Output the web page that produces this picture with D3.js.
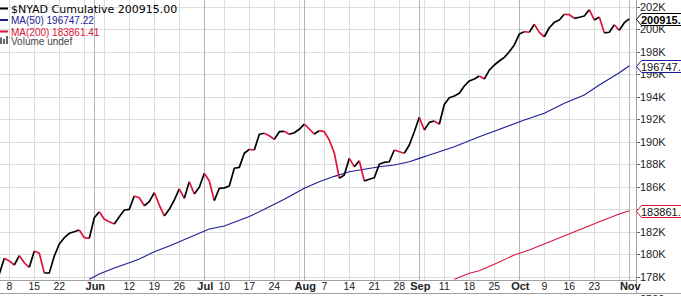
<!DOCTYPE html>
<html>
<head>
  <title>$NYAD Cumulative</title>
  <script src="https://d3js.org/d3.v7.min.js"></script>
  <style>
    body { margin: 0; background: #fff; }
    svg text { font-family: "Liberation Sans", Arial, sans-serif; }
  </style>
</head>
<body>
<svg id="chart" width="681" height="296"></svg>
<script>
// trading calendar shown on the chart
const firstDay = "2017-05-04";
const lastDay = "2017-11-01";
const holidays = ["2017-05-29", "2017-07-04", "2017-09-04"];

// daily close of $NYAD cumulative, one per trading day from firstDay
const closes = [
  178240, 179640, 179400, 179040, 179870, 179240, 178830, 180280, 180080, 178330,
  178340, 179840, 180910, 181470, 181860, 182000, 182150, 181470, 181410, 183240,
  183780, 183100, 182890, 182680, 183330, 183930, 183990, 185170, 185020, 184310,
  184670, 185470, 184370, 183400, 183990, 184820, 185800, 184970, 186440, 185350,
  185950, 187190, 186510, 184760, 185860, 185900, 186060, 187640, 187720, 188970,
  189320, 189260, 190660, 190750, 190530, 190210, 190890, 190920, 190660, 190800,
  191100, 191570, 191130, 190680, 190980, 190890, 190150, 189000, 186750, 187040,
  188520, 187780, 188310, 186510, 186660, 186800, 187990, 188170, 188220, 189260,
  189110, 188970, 189710, 190890, 192170, 191040, 191720, 191840, 191550, 193300,
  193910, 194060, 194300, 194950, 195400, 195570, 195840, 195570, 196370, 196820,
  197170, 197500, 198000, 198600, 199570, 199780, 199730, 200440, 199720, 199330,
  200130, 200610, 200820, 201330, 201290, 200970, 201060, 201170, 201730, 200820,
  201080, 199680, 199730, 200400, 199900, 200580, 200915
];

const ma50Dates = ["2017-05-31", "2017-06-02", "2017-06-07", "2017-06-12", "2017-06-14",
  "2017-06-19", "2017-06-22", "2017-06-26", "2017-07-05", "2017-07-10", "2017-07-17",
  "2017-07-20", "2017-07-26", "2017-08-01", "2017-08-04", "2017-08-09", "2017-08-14",
  "2017-08-17", "2017-08-22", "2017-08-25", "2017-08-30", "2017-09-01", "2017-09-06",
  "2017-09-08", "2017-09-13", "2017-09-20", "2017-10-03", "2017-10-09", "2017-10-13",
  "2017-10-19", "2017-10-24", "2017-10-30", "2017-11-01"];
const ma50Values = [177770, 178240, 178770, 179240, 179570, 180220, 180730, 181110, 182240,
  182510, 183350, 183990, 184880, 185860, 186440, 186920, 187330, 187550, 187780, 187930,
  188220, 188520, 188820, 189110, 189560, 190440, 191930, 192520, 193410, 194150, 195040,
  196130, 196747.22];

const ma200Dates = ["2017-09-13", "2017-09-18", "2017-09-20", "2017-09-25", "2017-09-29",
  "2017-10-04", "2017-10-24", "2017-10-30", "2017-11-01"];
const ma200Values = [177770, 178300, 178530, 179100, 179930, 180370, 182890, 183570, 183861.41];

const yTicks = [178000, 180000, 182000, 184000, 186000, 188000, 190000, 192000, 194000,
  196000, 198000, 200000, 202000];
const monthTicks = ["2017-06-01", "2017-07-03", "2017-08-01", "2017-09-01", "2017-10-02", "2017-11-01"];
const weekTicks = ["2017-05-08", "2017-05-15", "2017-05-22", "2017-06-12", "2017-06-19",
  "2017-06-26", "2017-07-10", "2017-07-17", "2017-07-24", "2017-08-07", "2017-08-14",
  "2017-08-21", "2017-08-28", "2017-09-11", "2017-09-18", "2017-09-25", "2017-10-09",
  "2017-10-16", "2017-10-23"];

const parse = d3.timeParse("%Y-%m-%d");
const fmt = d3.timeFormat("%Y-%m-%d");

// build the list of trading days
const days = d3.timeDay.range(parse(firstDay), d3.timeDay.offset(parse(lastDay), 1))
  .filter(d => d.getDay() !== 0 && d.getDay() !== 6 && !holidays.includes(fmt(d)));
const dayIndex = {};
days.forEach((d, i) => dayIndex[fmt(d)] = i);

const svg = d3.select("#chart");
const plotW = 636, plotH = 280;

const x = d3.scaleLinear().domain([0.14, 127.34]).range([0, plotW]);
const y = d3.scaleLinear().domain([177707, 202596]).range([plotH, 0]);

const red = "#dc143c", navy = "#1c1c96";

// grid
const grid = svg.append("g");
grid.selectAll(".hgrid").data(yTicks).enter().append("line")
  .attr("x1", 0).attr("x2", plotW)
  .attr("y1", d => Math.round(y(d)) + 0.5).attr("y2", d => Math.round(y(d)) + 0.5)
  .attr("stroke", "#dcdcdc");

const weekStarts = days.filter((d, i) => i > 0 && d3.timeMonday.floor(d) > d3.timeMonday.floor(days[i - 1]));
grid.selectAll(".wgrid").data(weekStarts).enter().append("line")
  .attr("x1", d => Math.round(x(dayIndex[fmt(d)])) + 0.5)
  .attr("x2", d => Math.round(x(dayIndex[fmt(d)])) + 0.5)
  .attr("y1", 0).attr("y2", plotH)
  .attr("stroke", "#dcdcdc");
grid.selectAll(".mgrid").data(monthTicks).enter().append("line")
  .attr("x1", d => Math.round(x(dayIndex[d])) + 0.5)
  .attr("x2", d => Math.round(x(dayIndex[d])) + 0.5)
  .attr("y1", 0).attr("y2", plotH)
  .attr("stroke", "#b4b4b4");

// plot frame
svg.append("line").attr("x1", plotW + 0.5).attr("x2", plotW + 0.5).attr("y1", 0).attr("y2", 293)
  .attr("stroke", "#a0a0a0");
svg.append("line").attr("x1", 0).attr("x2", plotW).attr("y1", plotH + 0.5).attr("y2", plotH + 0.5)
  .attr("stroke", "#a0a0a0");
svg.append("line").attr("x1", 0).attr("x2", 681).attr("y1", 293.5).attr("y2", 293.5)
  .attr("stroke", "#a0a0a0");

svg.append("clipPath").attr("id", "plotclip").append("rect")
  .attr("width", plotW).attr("height", plotH);
const plot = svg.append("g").attr("clip-path", "url(#plotclip)");

const line = d3.line().x(d => x(d.i)).y(d => y(d.v));

// moving averages
const ma50 = ma50Dates.map((d, k) => ({ i: dayIndex[d], v: ma50Values[k] }));
const ma200 = ma200Dates.map((d, k) => ({ i: dayIndex[d], v: ma200Values[k] }));
plot.append("path").datum(ma200).attr("d", line)
  .attr("fill", "none").attr("stroke", red).attr("stroke-width", 1.1);
plot.append("path").datum(ma50).attr("d", line)
  .attr("fill", "none").attr("stroke", navy).attr("stroke-width", 1.1);

// price line: red where the close fell, black where it rose
const pts = closes.map((v, i) => ({ i: i, v: v }));
const runs = [];
for (let i = 1; i < pts.length; i++) {
  const down = pts[i].v < pts[i - 1].v;
  const last = runs[runs.length - 1];
  if (last && last.down === down) last.pts.push(pts[i]);
  else runs.push({ down: down, pts: [pts[i - 1], pts[i]] });
}
plot.selectAll(".run").data(runs).enter().append("path")
  .attr("d", d => line(d.pts))
  .attr("fill", "none")
  .attr("stroke", d => d.down ? red : "#000")
  .attr("stroke-width", 1.7)
  .attr("stroke-linejoin", "round");

// y axis on the right
const yAxis = svg.append("g");
yAxis.selectAll(".yt").data(yTicks).enter().append("line")
  .attr("x1", plotW + 1).attr("x2", plotW + 4)
  .attr("y1", d => Math.round(y(d)) + 0.5).attr("y2", d => Math.round(y(d)) + 0.5)
  .attr("stroke", "#666");
yAxis.selectAll(".yl").data(yTicks).enter().append("text")
  .attr("x", plotW + 4).attr("y", d => y(d) + 4)
  .attr("font-size", 11).attr("fill", "#222")
  .text(d => (d / 1000) + "K");

// value tags
function tag(v, label, stroke, color, bold) {
  const cy = Math.round(y(v)) + 0.5;
  const g = svg.append("g");
  g.append("path")
    .attr("d", `M${plotW + 0.5},${cy} L${plotW + 5.5},${cy - 6} L700,${cy - 6} L700,${cy + 6} L${plotW + 5.5},${cy + 6} Z`)
    .attr("fill", "#fff").attr("stroke", stroke);
  g.append("text").attr("x", plotW + 5).attr("y", cy + 4)
    .attr("font-size", 11).attr("font-weight", bold ? "bold" : "normal")
    .attr("fill", color).text(label);
}
tag(ma200Values[ma200Values.length - 1], "183861.41", red, "#111", false);
tag(ma50Values[ma50Values.length - 1], "196747.22", navy, "#111", false);
tag(closes[closes.length - 1], "200915.00", "#000", "#000", true);

// x axis labels
const xAxis = svg.append("g");
xAxis.selectAll(".wl").data(weekTicks).enter().append("text")
  .attr("x", d => x(dayIndex[d])).attr("y", 290)
  .attr("text-anchor", "middle").attr("font-size", 10.5).attr("fill", "#222")
  .text(d => +d.slice(8));
xAxis.selectAll(".ml").data(monthTicks).enter().append("text")
  .attr("x", d => x(dayIndex[d]) + 1).attr("y", 290)
  .attr("text-anchor", "middle").attr("font-size", 11).attr("font-weight", "bold").attr("fill", "#222")
  .text(d => d3.timeFormat("%b")(parse(d)));

// next panel label peeking in at the bottom
svg.append("text").attr("x", plotW + 4).attr("y", 302.5).attr("font-size", 11).attr("fill", "#222").text("2500");

// legend
const legend = svg.append("g");
const items = [
  { label: "$NYAD Cumulative 200915.00", color: "#000", font: "DejaVu Sans", size: 11 },
  { label: "MA(50) 196747.22", color: navy, font: "Liberation Sans", size: 10 },
  { label: "MA(200) 183861.41", color: red, font: "Liberation Sans", size: 10 }
];
items.forEach((it, k) => {
  const cy = 8.5 + k * 11.5;
  legend.append("rect").attr("x", 0).attr("y", cy - 1).attr("width", 8).attr("height", 2).attr("fill", it.color);
  legend.append("text").attr("x", 11).attr("y", cy + 4)
    .style("font-family", it.font).attr("font-size", it.size).attr("fill", it.color).text(it.label);
});
[3, 2, 4].forEach((h, k) => {
  legend.append("rect").attr("x", k * 3).attr("y", 44 - h * 1.5 - 2).attr("width", 2)
    .attr("height", h * 1.5 + 2).attr("fill", "#666");
});
legend.append("text").attr("x", 11).attr("y", 45).attr("font-size", 10).attr("fill", "#444").text("Volume undef");
</script>
</body>
</html>
